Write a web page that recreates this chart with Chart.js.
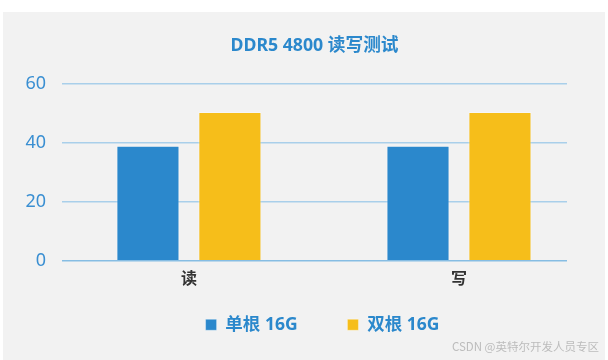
<!DOCTYPE html>
<html>
<head>
<meta charset="utf-8">
<script src="https://cdn.jsdelivr.net/npm/chart.js@4.4.1/dist/chart.umd.min.js"></script>
<style>
  body { margin: 0; background: #fff; }
  #box { position: absolute; left: 3px; top: 12px; width: 602px; height: 348px; background: #f2f2f2; }
  #mark { position: absolute; right: 6px; bottom: 6px; font: 11.5px "Noto Sans CJK SC", sans-serif; color: #bcbcbc; }
</style>
</head>
<body>
<div id="box">
  <canvas id="memChart" width="602" height="348"></canvas>
  <div id="mark">CSDN @英特尔开发人员专区</div>
</div>
<script>
const categories = ['读', '写'];
const singleStick = [39.1, 39.1];
const dualStick = [50.6, 50.6];
const yTicks = [0, 20, 40, 60];

const blue = '#2b88cc';
const yellow = '#f6be1a';
const fontFamily = '"Noto Sans", "Noto Sans CJK SC", sans-serif';

// bars sit on a linear x scale so the two groups land where the original put them
function toPoints(values) {
    return values.map((v, i) => ({ x: i, y: v }));
}

// nudge the legend a little to the right, and let the y labels use the left padding
const layoutTweaks = {
    id: 'layoutTweaks',
    afterLayout(chart) {
        chart.legend.left += 8;
        chart.legend.right += 8;
        chart.scales.y.left = 0;
    }
};

const ctx = document.getElementById('memChart').getContext('2d');
const memChart = new Chart(ctx, {
    type: 'bar',
    data: {
        datasets: [{
            label: '单根 16G       ',
            data: toPoints(singleStick),
            backgroundColor: blue,
            borderColor: 'rgba(255,255,255,0.35)',
            borderWidth: 1,
            categoryPercentage: 0.607,
            barPercentage: 0.77
        }, {
            label: '双根 16G',
            data: toPoints(dualStick),
            backgroundColor: yellow,
            borderColor: 'rgba(255,255,255,0.35)',
            borderWidth: 1,
            categoryPercentage: 0.607,
            barPercentage: 0.77
        }]
    },
    plugins: [layoutTweaks],
    options: {
        responsive: false,
        animation: false,
        layout: {
            padding: { left: 59, right: 38, top: 0, bottom: 16.5 }
        },
        plugins: {
            title: {
                display: true,
                text: 'DDR5 4800 读写测试',
                color: blue,
                font: { family: fontFamily, size: 17.7, weight: 'bold' },
                padding: { top: 23, bottom: 28 }
            },
            legend: {
                position: 'bottom',
                labels: {
                    color: blue,
                    boxWidth: 11,
                    boxHeight: 11,
                    padding: 18,
                    font: { family: fontFamily, size: 17.5, weight: 'bold' }
                }
            },
            tooltip: { enabled: false }
        },
        scales: {
            x: {
                type: 'linear',
                offset: false,
                min: -0.47,
                max: 1.40,
                afterBuildTicks: axis => {
                    axis.ticks = categories.map((c, i) => ({ value: i }));
                },
                grid: { display: false, drawTicks: false },
                border: { display: false },
                ticks: {
                    padding: 9,
                    color: '#333',
                    font: { family: fontFamily, size: 16, weight: 'bold' },
                    callback: value => categories[value]
                }
            },
            y: {
                min: 0,
                max: 60,
                afterBuildTicks: axis => {
                    axis.ticks = yTicks.map(v => ({ value: v }));
                },
                afterFit: axis => {
                    axis.width = 0;
                },
                border: { display: false },
                grid: {
                    drawTicks: false,
                    lineWidth: 1.5,
                    color: c => c.tick && c.tick.value === 0 ? '#86bde3' : '#a9cfea'
                },
                ticks: {
                    padding: 16,
                    color: '#3a8fd2',
                    font: { family: fontFamily, size: 18 }
                }
            }
        }
    }
});
</script>
</body>
</html>
